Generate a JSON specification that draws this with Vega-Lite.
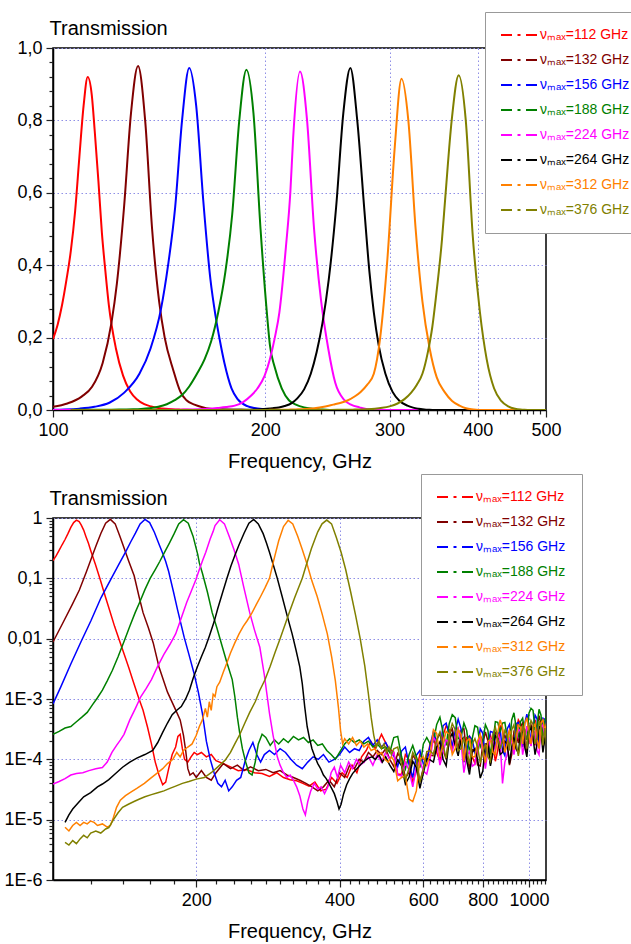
{
  "$schema": "https://vega.github.io/schema/vega-lite/v6.json",
  "padding": {"left": 3, "top": 10, "right": 0, "bottom": 0},
  "spacing": 0,
  "config": {
    "font": "Liberation Sans",
    "view": {"stroke": "#000", "strokeWidth": 1.5},
    "axis": {
      "domainColor": "#000", "domainWidth": 1.5, "tickColor": "#222", "tickWidth": 1.2,
      "labelColor": "#000", "labelFont": "Liberation Sans", "labelFontSize": 18,
      "titleFont": "Liberation Sans", "titleFontSize": 20, "titleFontWeight": "normal", "titleColor": "#000",
      "gridColor": "#8f8fe6", "gridDash": [1.5, 2.5], "gridWidth": 1,
      "labelOverlap": false, "labelBound": false, "labelFlush": false, "labelPadding": 4
    },
    "legend": {
      "orient": "none", "title": null,
      "labelFont": "Liberation Sans", "labelFontSize": 14,
      "labelColor": {"expr": "['#ff0000','#800000','#0000ff','#008000','#ff00ff','#000000','#ff8000','#808000'][indexof(['112','132','156','188','224','264','312','376'], datum.value)]"},
      "symbolType": "M-3.6,0H-1.4M-0.3,0H0.3M1.4,0H3.6",
      "symbolSize": 100, "symbolStrokeWidth": 2, "symbolOffset": 11, "labelOffset": 14,
      "rowPadding": 11, "padding": 16, "fillColor": "#ffffff", "strokeColor": "#999999", "cornerRadius": 0
    }
  },
  "datasets": {
    "transmission": [
      {"nu":"112","f":100,"T":0.196},{"nu":"112","f":101.5,"T":0.235},{"nu":"112","f":103,"T":0.29},{"nu":"112","f":104.5,"T":0.36},{"nu":"112","f":106,"T":0.44},{"nu":"112","f":107.5,"T":0.55},{"nu":"112","f":109,"T":0.7},{"nu":"112","f":110.5,"T":0.84},{"nu":"112","f":112,"T":0.92},{"nu":"112","f":113.5,"T":0.87},{"nu":"112","f":114.6,"T":0.77},{"nu":"112","f":116,"T":0.63},{"nu":"112","f":117.3,"T":0.49},{"nu":"112","f":118.7,"T":0.38},{"nu":"112","f":120,"T":0.29},{"nu":"112","f":122.8,"T":0.17},{"nu":"112","f":125.7,"T":0.095},{"nu":"112","f":128.6,"T":0.052},{"nu":"112","f":131.6,"T":0.029},{"nu":"112","f":134.7,"T":0.016},{"nu":"112","f":137.8,"T":0.0095},{"nu":"112","f":141,"T":0.0056},{"nu":"112","f":144.3,"T":0.0033},{"nu":"112","f":147.6,"T":0.0019},{"nu":"112","f":151,"T":0.0011},{"nu":"112","f":154.6,"T":6.5e-4},{"nu":"112","f":158,"T":3.4e-4},{"nu":"112","f":161,"T":1.8e-4},{"nu":"112","f":164,"T":9e-5},{"nu":"112","f":167,"T":5.5e-5},{"nu":"112","f":170,"T":3.8e-5},{"nu":"112","f":172.5,"T":4.2e-5},{"nu":"112","f":175,"T":7e-5},{"nu":"112","f":178,"T":1.2e-4},{"nu":"112","f":181,"T":1.6e-4},{"nu":"112","f":183,"T":2.4e-4},{"nu":"112","f":185,"T":2.6e-4},{"nu":"112","f":187,"T":1.5e-4},{"nu":"112","f":189,"T":1e-4},{"nu":"112","f":192,"T":9e-5},{"nu":"112","f":195,"T":1.1e-4},{"nu":"112","f":198,"T":1.3e-4},{"nu":"112","f":201,"T":1.2e-4},{"nu":"112","f":205,"T":1.3e-4},{"nu":"112","f":210,"T":1.1e-4},{"nu":"112","f":215,"T":1.2e-4},{"nu":"112","f":220,"T":9.5e-5},{"nu":"112","f":228,"T":8.5e-5},{"nu":"112","f":236,"T":7.5e-5},{"nu":"112","f":245,"T":6.5e-5},{"nu":"112","f":255,"T":6.8e-5},{"nu":"112","f":265,"T":6e-5},{"nu":"112","f":275,"T":5.8e-5},{"nu":"112","f":285,"T":5.2e-5},{"nu":"112","f":295,"T":6e-5},{"nu":"112","f":305,"T":5e-5},{"nu":"112","f":315,"T":4.6e-5},{"nu":"112","f":325,"T":4.4e-5},{"nu":"112","f":335,"T":4e-5},{"nu":"112","f":345,"T":3.6e-5},{"nu":"112","f":355,"T":4.2e-5},{"nu":"112","f":365,"T":3e-5},{"nu":"112","f":375,"T":3.2e-5},{"nu":"112","f":385,"T":5e-5},{"nu":"112","f":395,"T":4e-5},{"nu":"112","f":405,"T":6e-5},{"nu":"112","f":415,"T":5e-5},{"nu":"112","f":425,"T":8e-5},{"nu":"112","f":435,"T":6e-5},{"nu":"112","f":445,"T":1.1e-4},{"nu":"112","f":455,"T":1.4e-4},{"nu":"112","f":465,"T":2e-4},{"nu":"112","f":475,"T":1.5e-4},{"nu":"112","f":490,"T":2.6e-4},{"nu":"112","f":505,"T":1.6e-4},
      {"nu":"112","f":520,"T":1.3e-4},{"nu":"112","f":540,"T":5.7e-5},{"nu":"112","f":560,"T":9.8e-5},{"nu":"112","f":580,"T":6.8e-5},{"nu":"112","f":600,"T":1e-4},{"nu":"112","f":620,"T":1.8e-4},{"nu":"112","f":640,"T":1.3e-4},{"nu":"112","f":660,"T":2.5e-4},{"nu":"112","f":680,"T":3.1e-4},{"nu":"112","f":700,"T":2e-4},{"nu":"112","f":720,"T":2.2e-4},{"nu":"112","f":740,"T":2.3e-4},{"nu":"112","f":760,"T":1.1e-4},{"nu":"112","f":780,"T":1.35e-4},{"nu":"112","f":800,"T":2e-4},{"nu":"112","f":820,"T":2.2e-4},{"nu":"112","f":840,"T":1.7e-4},{"nu":"112","f":860,"T":1.4e-4},{"nu":"112","f":880,"T":3.1e-4},{"nu":"112","f":900,"T":2.2e-4},{"nu":"112","f":920,"T":2.1e-4},{"nu":"112","f":940,"T":3e-4},{"nu":"112","f":960,"T":3.9e-4},{"nu":"112","f":980,"T":2.4e-4},{"nu":"112","f":1000,"T":2.2e-4},{"nu":"112","f":1020,"T":3.4e-4},{"nu":"112","f":1040,"T":3e-4},{"nu":"112","f":1060,"T":4.3e-4},{"nu":"112","f":1080,"T":2.6e-4},{"nu":"112","f":1090,"T":3.3e-4},
      {"nu":"112","f":530,"T":5.6e-5},{"nu":"112","f":550,"T":1.2e-4},{"nu":"112","f":570,"T":4.1e-5},{"nu":"112","f":590,"T":1.2e-4},{"nu":"112","f":610,"T":9.8e-5},{"nu":"112","f":630,"T":2.5e-4},{"nu":"112","f":650,"T":9.5e-5},{"nu":"112","f":670,"T":3.6e-4},{"nu":"112","f":690,"T":1.5e-4},{"nu":"112","f":710,"T":3.2e-4},{"nu":"112","f":730,"T":9e-5},{"nu":"112","f":750,"T":2.4e-4},{"nu":"112","f":770,"T":8.6e-5},{"nu":"112","f":790,"T":2.5e-4},{"nu":"112","f":810,"T":1.05e-4},{"nu":"112","f":830,"T":2.5e-4},{"nu":"112","f":850,"T":9.3e-5},{"nu":"112","f":870,"T":3.6e-4},{"nu":"112","f":890,"T":1.3e-4},{"nu":"112","f":910,"T":3e-4},{"nu":"112","f":930,"T":1.5e-4},{"nu":"112","f":950,"T":4.5e-4},{"nu":"112","f":970,"T":1.6e-4},{"nu":"112","f":990,"T":3.5e-4},{"nu":"112","f":1010,"T":1.7e-4},{"nu":"112","f":1030,"T":4.5e-4},{"nu":"112","f":1050,"T":1.8e-4},{"nu":"112","f":1070,"T":4.5e-4},

      {"nu":"132","f":100,"T":0.0088},{"nu":"132","f":104.8,"T":0.018},{"nu":"132","f":109.8,"T":0.037},{"nu":"132","f":113.6,"T":0.064},{"nu":"132","f":117.6,"T":0.13},{"nu":"132","f":121,"T":0.24},{"nu":"132","f":123.2,"T":0.35},{"nu":"132","f":126.1,"T":0.56},{"nu":"132","f":129,"T":0.82},{"nu":"132","f":132,"T":0.95},{"nu":"132","f":135.1,"T":0.8},{"nu":"132","f":138.2,"T":0.5},{"nu":"132","f":141.4,"T":0.3},{"nu":"132","f":144,"T":0.2},{"nu":"132","f":148.1,"T":0.11},{"nu":"132","f":151.6,"T":0.05},{"nu":"132","f":154.6,"T":0.027},{"nu":"132","f":158.7,"T":0.015},{"nu":"132","f":162.4,"T":0.0085},{"nu":"132","f":167,"T":0.0034},{"nu":"132","f":174,"T":0.0013},{"nu":"132","f":181,"T":6.6e-4},{"nu":"132","f":185,"T":4.5e-4},{"nu":"132","f":188,"T":2.5e-4},{"nu":"132","f":190,"T":1.4e-4},{"nu":"132","f":192,"T":7e-5},{"nu":"132","f":194,"T":5.5e-5},{"nu":"132","f":197,"T":6e-5},{"nu":"132","f":200,"T":5e-5},{"nu":"132","f":205,"T":6.5e-5},{"nu":"132","f":210,"T":5e-5},{"nu":"132","f":215,"T":4.5e-5},{"nu":"132","f":220,"T":6e-5},{"nu":"132","f":228,"T":8.5e-5},{"nu":"132","f":236,"T":7e-5},{"nu":"132","f":244,"T":8e-5},{"nu":"132","f":252,"T":6.5e-5},{"nu":"132","f":260,"T":7.5e-5},{"nu":"132","f":270,"T":6.5e-5},{"nu":"132","f":280,"T":6.8e-5},{"nu":"132","f":290,"T":6e-5},{"nu":"132","f":300,"T":6.5e-5},{"nu":"132","f":310,"T":5.5e-5},{"nu":"132","f":320,"T":5e-5},{"nu":"132","f":330,"T":4.5e-5},{"nu":"132","f":340,"T":4e-5},{"nu":"132","f":350,"T":3.5e-5},{"nu":"132","f":360,"T":3e-5},{"nu":"132","f":370,"T":3.5e-5},{"nu":"132","f":380,"T":4.5e-5},{"nu":"132","f":390,"T":3.5e-5},{"nu":"132","f":400,"T":6e-5},{"nu":"132","f":410,"T":5e-5},{"nu":"132","f":420,"T":8e-5},{"nu":"132","f":430,"T":7e-5},{"nu":"132","f":440,"T":1e-4},{"nu":"132","f":450,"T":9e-5},{"nu":"132","f":460,"T":1.3e-4},{"nu":"132","f":470,"T":1.1e-4},{"nu":"132","f":480,"T":1.4e-4},{"nu":"132","f":490,"T":1.2e-4},{"nu":"132","f":500,"T":1.5e-4},{"nu":"132","f":510,"T":1e-4},
      {"nu":"132","f":520,"T":7.6e-5},{"nu":"132","f":540,"T":1.03e-4},{"nu":"132","f":560,"T":6.1e-5},{"nu":"132","f":580,"T":9.5e-5},{"nu":"132","f":600,"T":7.2e-5},{"nu":"132","f":620,"T":1.17e-4},{"nu":"132","f":640,"T":2.1e-4},{"nu":"132","f":660,"T":1.45e-4},{"nu":"132","f":680,"T":2.6e-4},{"nu":"132","f":700,"T":2e-4},{"nu":"132","f":720,"T":3e-4},{"nu":"132","f":740,"T":1.3e-4},{"nu":"132","f":760,"T":1.44e-4},{"nu":"132","f":780,"T":8.1e-5},{"nu":"132","f":800,"T":1.8e-4},{"nu":"132","f":820,"T":2e-4},{"nu":"132","f":840,"T":1.3e-4},{"nu":"132","f":860,"T":2.7e-4},{"nu":"132","f":880,"T":1.9e-4},{"nu":"132","f":900,"T":2e-4},{"nu":"132","f":920,"T":1.2e-4},{"nu":"132","f":940,"T":2.7e-4},{"nu":"132","f":960,"T":3.5e-4},{"nu":"132","f":980,"T":2.2e-4},{"nu":"132","f":1000,"T":3.2e-4},{"nu":"132","f":1020,"T":2.5e-4},{"nu":"132","f":1040,"T":3.2e-4},{"nu":"132","f":1060,"T":3.9e-4},{"nu":"132","f":1080,"T":2.3e-4},{"nu":"132","f":1090,"T":3e-4},
      {"nu":"132","f":530,"T":1.25e-4},{"nu":"132","f":550,"T":4.9e-5},{"nu":"132","f":570,"T":1.17e-4},{"nu":"132","f":590,"T":4.2e-5},{"nu":"132","f":610,"T":1.23e-4},{"nu":"132","f":630,"T":1.15e-4},{"nu":"132","f":650,"T":2.7e-4},{"nu":"132","f":670,"T":1e-4},{"nu":"132","f":690,"T":3.2e-4},{"nu":"132","f":710,"T":1.5e-4},{"nu":"132","f":730,"T":3.2e-4},{"nu":"132","f":750,"T":6.9e-5},{"nu":"132","f":770,"T":1.46e-4},{"nu":"132","f":790,"T":7.8e-5},{"nu":"132","f":810,"T":2.85e-4},{"nu":"132","f":830,"T":8.3e-5},{"nu":"132","f":850,"T":2.8e-4},{"nu":"132","f":870,"T":1.6e-4},{"nu":"132","f":890,"T":2.5e-4},{"nu":"132","f":910,"T":8e-5},{"nu":"132","f":930,"T":2.9e-4},{"nu":"132","f":950,"T":1.86e-4},{"nu":"132","f":970,"T":4e-4},{"nu":"132","f":990,"T":1.35e-4},{"nu":"132","f":1010,"T":3.7e-4},{"nu":"132","f":1030,"T":1.7e-4},{"nu":"132","f":1050,"T":5.3e-4},{"nu":"132","f":1070,"T":1.55e-4},

      {"nu":"156","f":100,"T":8.3e-4},{"nu":"156","f":103.9,"T":0.0016},{"nu":"156","f":109,"T":0.0038},{"nu":"156","f":114.5,"T":0.0089},{"nu":"156","f":120.2,"T":0.02},{"nu":"156","f":126.2,"T":0.048},{"nu":"156","f":132.6,"T":0.1},{"nu":"156","f":137.5,"T":0.17},{"nu":"156","f":142.3,"T":0.28},{"nu":"156","f":145.6,"T":0.4},{"nu":"156","f":149,"T":0.56},{"nu":"156","f":152.4,"T":0.8},{"nu":"156","f":156,"T":0.945},{"nu":"156","f":159.6,"T":0.84},{"nu":"156","f":163.3,"T":0.58},{"nu":"156","f":167.2,"T":0.36},{"nu":"156","f":170,"T":0.26},{"nu":"156","f":172.5,"T":0.19},{"nu":"156","f":175,"T":0.13},{"nu":"156","f":179.1,"T":0.06},{"nu":"156","f":182.7,"T":0.03},{"nu":"156","f":188.6,"T":0.0106},{"nu":"156","f":193,"T":0.0055},{"nu":"156","f":198,"T":0.0026},{"nu":"156","f":202,"T":0.0013},{"nu":"156","f":206,"T":5.8e-4},{"nu":"156","f":210,"T":2e-4},{"nu":"156","f":214,"T":1e-4},{"nu":"156","f":218,"T":6e-5},{"nu":"156","f":222,"T":4e-5},{"nu":"156","f":226,"T":3.5e-5},{"nu":"156","f":230,"T":4.5e-5},{"nu":"156","f":234,"T":3e-5},{"nu":"156","f":238,"T":3.5e-5},{"nu":"156","f":243,"T":4.5e-5},{"nu":"156","f":248,"T":5e-5},{"nu":"156","f":253,"T":9e-5},{"nu":"156","f":258,"T":1.4e-4},{"nu":"156","f":263,"T":1.9e-4},{"nu":"156","f":268,"T":1.2e-4},{"nu":"156","f":273,"T":9e-5},{"nu":"156","f":278,"T":1.2e-4},{"nu":"156","f":285,"T":1.4e-4},{"nu":"156","f":292,"T":1.2e-4},{"nu":"156","f":300,"T":1.5e-4},{"nu":"156","f":308,"T":1.3e-4},{"nu":"156","f":316,"T":1e-4},{"nu":"156","f":325,"T":8e-5},{"nu":"156","f":334,"T":7e-5},{"nu":"156","f":343,"T":9e-5},{"nu":"156","f":352,"T":1.1e-4},{"nu":"156","f":361,"T":1e-4},{"nu":"156","f":370,"T":1.2e-4},{"nu":"156","f":380,"T":9e-5},{"nu":"156","f":390,"T":1e-4},{"nu":"156","f":400,"T":1.2e-4},{"nu":"156","f":410,"T":1.6e-4},{"nu":"156","f":420,"T":1.3e-4},{"nu":"156","f":430,"T":1.5e-4},{"nu":"156","f":440,"T":1.4e-4},{"nu":"156","f":450,"T":2e-4},{"nu":"156","f":460,"T":2.3e-4},{"nu":"156","f":470,"T":1.7e-4},{"nu":"156","f":480,"T":2.1e-4},{"nu":"156","f":490,"T":1.6e-4},{"nu":"156","f":500,"T":1.9e-4},{"nu":"156","f":510,"T":1.4e-4},
      {"nu":"156","f":520,"T":1.15e-4},{"nu":"156","f":540,"T":1.37e-4},{"nu":"156","f":560,"T":8.1e-5},{"nu":"156","f":580,"T":1.17e-4},{"nu":"156","f":600,"T":8.4e-5},{"nu":"156","f":620,"T":1.7e-4},{"nu":"156","f":640,"T":1.9e-4},{"nu":"156","f":660,"T":3.6e-4},{"nu":"156","f":680,"T":2.5e-4},{"nu":"156","f":700,"T":3e-4},{"nu":"156","f":720,"T":3.2e-4},{"nu":"156","f":740,"T":1.3e-4},{"nu":"156","f":760,"T":2.1e-4},{"nu":"156","f":780,"T":1.6e-4},{"nu":"156","f":800,"T":2.7e-4},{"nu":"156","f":820,"T":1.7e-4},{"nu":"156","f":840,"T":2.8e-4},{"nu":"156","f":860,"T":2.5e-4},{"nu":"156","f":880,"T":1.4e-4},{"nu":"156","f":900,"T":3.2e-4},{"nu":"156","f":920,"T":2.2e-4},{"nu":"156","f":940,"T":3.9e-4},{"nu":"156","f":960,"T":2.4e-4},{"nu":"156","f":980,"T":4e-4},{"nu":"156","f":1000,"T":3.5e-4},{"nu":"156","f":1020,"T":3e-4},{"nu":"156","f":1040,"T":4.7e-4},{"nu":"156","f":1060,"T":2.8e-4},{"nu":"156","f":1080,"T":4.6e-4},{"nu":"156","f":1090,"T":3.6e-4},
      {"nu":"156","f":530,"T":7.6e-5},{"nu":"156","f":550,"T":1.6e-4},{"nu":"156","f":570,"T":5e-5},{"nu":"156","f":590,"T":1.4e-4},{"nu":"156","f":610,"T":8.9e-5},{"nu":"156","f":630,"T":2.9e-4},{"nu":"156","f":650,"T":1.4e-4},{"nu":"156","f":670,"T":4e-4},{"nu":"156","f":690,"T":1.65e-4},{"nu":"156","f":710,"T":4.6e-4},{"nu":"156","f":730,"T":9e-5},{"nu":"156","f":750,"T":2.4e-4},{"nu":"156","f":770,"T":1.3e-4},{"nu":"156","f":790,"T":3.2e-4},{"nu":"156","f":810,"T":1.1e-4},{"nu":"156","f":830,"T":2.9e-4},{"nu":"156","f":850,"T":1.6e-4},{"nu":"156","f":870,"T":3.1e-4},{"nu":"156","f":890,"T":1.15e-4},{"nu":"156","f":910,"T":3.8e-4},{"nu":"156","f":930,"T":1.8e-4},{"nu":"156","f":950,"T":4.1e-4},{"nu":"156","f":970,"T":1.6e-4},{"nu":"156","f":990,"T":5.6e-4},{"nu":"156","f":1010,"T":1.95e-4},{"nu":"156","f":1030,"T":5.4e-4},{"nu":"156","f":1050,"T":1.9e-4},{"nu":"156","f":1070,"T":4.8e-4},

      {"nu":"188","f":100,"T":2.6e-4},{"nu":"188","f":103,"T":2.9e-4},{"nu":"188","f":106,"T":3.3e-4},{"nu":"188","f":109,"T":3.5e-4},{"nu":"188","f":112,"T":4.2e-4},{"nu":"188","f":115,"T":5e-4},{"nu":"188","f":118,"T":6e-4},{"nu":"188","f":121,"T":8e-4},{"nu":"188","f":124,"T":0.00105},{"nu":"188","f":127,"T":0.0014},{"nu":"188","f":130,"T":0.002},{"nu":"188","f":133.3,"T":0.003},{"nu":"188","f":137,"T":0.005},{"nu":"188","f":141,"T":0.009},{"nu":"188","f":145,"T":0.016},{"nu":"188","f":148.8,"T":0.027},{"nu":"188","f":152.5,"T":0.042},{"nu":"188","f":156,"T":0.065},{"nu":"188","f":160,"T":0.1},{"nu":"188","f":164,"T":0.14},{"nu":"188","f":167.6,"T":0.19},{"nu":"188","f":171.5,"T":0.27},{"nu":"188","f":175.5,"T":0.38},{"nu":"188","f":179.5,"T":0.54},{"nu":"188","f":183.7,"T":0.8},{"nu":"188","f":188,"T":0.94},{"nu":"188","f":192.4,"T":0.82},{"nu":"188","f":196.9,"T":0.5},{"nu":"188","f":201.4,"T":0.25},{"nu":"188","f":203,"T":0.18},{"nu":"188","f":206.1,"T":0.12},{"nu":"188","f":211,"T":0.06},{"nu":"188","f":216,"T":0.027},{"nu":"188","f":221,"T":0.015},{"nu":"188","f":227,"T":0.0072},{"nu":"188","f":232,"T":0.004},{"nu":"188","f":238,"T":0.0021},{"nu":"188","f":241,"T":0.0011},{"nu":"188","f":244,"T":5e-4},{"nu":"188","f":247,"T":2.6e-4},{"nu":"188","f":250,"T":1.5e-4},{"nu":"188","f":254,"T":9e-5},{"nu":"188","f":258,"T":6e-5},{"nu":"188","f":262,"T":5.5e-5},{"nu":"188","f":266,"T":9e-5},{"nu":"188","f":270,"T":1.8e-4},{"nu":"188","f":275,"T":2.6e-4},{"nu":"188","f":280,"T":2.3e-4},{"nu":"188","f":286,"T":1.7e-4},{"nu":"188","f":292,"T":2.1e-4},{"nu":"188","f":298,"T":1.8e-4},{"nu":"188","f":305,"T":2.2e-4},{"nu":"188","f":312,"T":1.9e-4},{"nu":"188","f":320,"T":2.4e-4},{"nu":"188","f":328,"T":2.1e-4},{"nu":"188","f":336,"T":2.3e-4},{"nu":"188","f":344,"T":1.9e-4},{"nu":"188","f":352,"T":2.1e-4},{"nu":"188","f":360,"T":1.7e-4},{"nu":"188","f":368,"T":1.8e-4},{"nu":"188","f":376,"T":1.4e-4},{"nu":"188","f":384,"T":1.2e-4},{"nu":"188","f":392,"T":1e-4},{"nu":"188","f":400,"T":1.3e-4},{"nu":"188","f":410,"T":1.8e-4},{"nu":"188","f":420,"T":2.2e-4},{"nu":"188","f":430,"T":1.9e-4},{"nu":"188","f":440,"T":2.1e-4},{"nu":"188","f":450,"T":1.8e-4},{"nu":"188","f":460,"T":2e-4},{"nu":"188","f":470,"T":1.6e-4},{"nu":"188","f":480,"T":1.8e-4},{"nu":"188","f":490,"T":1.5e-4},{"nu":"188","f":500,"T":1.6e-4},{"nu":"188","f":510,"T":1.3e-4},
      {"nu":"188","f":520,"T":2.3e-4},{"nu":"188","f":540,"T":1.1e-4},{"nu":"188","f":560,"T":1.2e-4},{"nu":"188","f":580,"T":1.1e-4},{"nu":"188","f":600,"T":1.8e-4},{"nu":"188","f":620,"T":1.8e-4},{"nu":"188","f":640,"T":3.8e-4},{"nu":"188","f":660,"T":2.8e-4},{"nu":"188","f":680,"T":3.9e-4},{"nu":"188","f":700,"T":4.9e-4},{"nu":"188","f":720,"T":2.3e-4},{"nu":"188","f":740,"T":3e-4},{"nu":"188","f":760,"T":2.2e-4},{"nu":"188","f":780,"T":3.4e-4},{"nu":"188","f":800,"T":2e-4},{"nu":"188","f":820,"T":3e-4},{"nu":"188","f":840,"T":1.9e-4},{"nu":"188","f":860,"T":4.1e-4},{"nu":"188","f":880,"T":4e-4},{"nu":"188","f":900,"T":2.3e-4},{"nu":"188","f":920,"T":4.5e-4},{"nu":"188","f":940,"T":3.4e-4},{"nu":"188","f":960,"T":4.2e-4},{"nu":"188","f":980,"T":2.7e-4},{"nu":"188","f":1000,"T":5.8e-4},{"nu":"188","f":1020,"T":6.5e-4},{"nu":"188","f":1040,"T":3.6e-4},{"nu":"188","f":1060,"T":5.4e-4},{"nu":"188","f":1080,"T":4.3e-4},{"nu":"188","f":1090,"T":5.4e-4},
      {"nu":"188","f":530,"T":2.4e-4},{"nu":"188","f":550,"T":6.9e-5},{"nu":"188","f":570,"T":1.7e-4},{"nu":"188","f":590,"T":7.3e-5},{"nu":"188","f":610,"T":2.3e-4},{"nu":"188","f":630,"T":1.96e-4},{"nu":"188","f":650,"T":5e-4},{"nu":"188","f":670,"T":1.7e-4},{"nu":"188","f":690,"T":5.5e-4},{"nu":"188","f":710,"T":2.2e-4},{"nu":"188","f":730,"T":4e-4},{"nu":"188","f":750,"T":1.3e-4},{"nu":"188","f":770,"T":3.6e-4},{"nu":"188","f":790,"T":1.6e-4},{"nu":"188","f":810,"T":3.75e-4},{"nu":"188","f":830,"T":1.2e-4},{"nu":"188","f":850,"T":4.2e-4},{"nu":"188","f":870,"T":2.8e-4},{"nu":"188","f":890,"T":4.1e-4},{"nu":"188","f":910,"T":1.7e-4},{"nu":"188","f":930,"T":5.9e-4},{"nu":"188","f":950,"T":2.3e-4},{"nu":"188","f":970,"T":4.8e-4},{"nu":"188","f":990,"T":2.1e-4},{"nu":"188","f":1010,"T":7e-4},{"nu":"188","f":1030,"T":3e-4},{"nu":"188","f":1050,"T":6.75e-4},{"nu":"188","f":1070,"T":2.4e-4},

      {"nu":"224","f":100,"T":3.9e-5},{"nu":"224","f":103,"T":4.3e-5},{"nu":"224","f":106,"T":4.8e-5},{"nu":"224","f":109,"T":5.5e-5},{"nu":"224","f":112,"T":5.8e-5},{"nu":"224","f":115.5,"T":6e-5},{"nu":"224","f":119,"T":6.5e-5},{"nu":"224","f":123,"T":7e-5},{"nu":"224","f":127,"T":7.3e-5},{"nu":"224","f":130,"T":9e-5},{"nu":"224","f":133,"T":1.3e-4},{"nu":"224","f":136,"T":1.7e-4},{"nu":"224","f":138.6,"T":2.1e-4},{"nu":"224","f":141,"T":2.6e-4},{"nu":"224","f":145,"T":4.5e-4},{"nu":"224","f":149,"T":7e-4},{"nu":"224","f":153,"T":0.0011},{"nu":"224","f":157,"T":0.0015},{"nu":"224","f":161,"T":0.0021},{"nu":"224","f":166,"T":0.0035},{"nu":"224","f":171,"T":0.0055},{"nu":"224","f":176,"T":0.008},{"nu":"224","f":181,"T":0.012},{"nu":"224","f":186,"T":0.022},{"nu":"224","f":191,"T":0.04},{"nu":"224","f":195,"T":0.06},{"nu":"224","f":199.5,"T":0.094},{"nu":"224","f":203,"T":0.14},{"nu":"224","f":206.3,"T":0.2},{"nu":"224","f":209.4,"T":0.27},{"nu":"224","f":213.9,"T":0.45},{"nu":"224","f":217,"T":0.6},{"nu":"224","f":219,"T":0.75},{"nu":"224","f":224,"T":0.935},{"nu":"224","f":229.2,"T":0.8},{"nu":"224","f":234.5,"T":0.5},{"nu":"224","f":240,"T":0.3},{"nu":"224","f":245.6,"T":0.17},{"nu":"224","f":251.3,"T":0.075},{"nu":"224","f":259,"T":0.027},{"nu":"224","f":265,"T":0.014},{"nu":"224","f":272,"T":0.0072},{"nu":"224","f":278,"T":0.0025},{"nu":"224","f":285,"T":5.8e-4},{"nu":"224","f":290,"T":2.5e-4},{"nu":"224","f":296,"T":1.1e-4},{"nu":"224","f":300,"T":8e-5},{"nu":"224","f":305,"T":6e-5},{"nu":"224","f":310,"T":5e-5},{"nu":"224","f":315,"T":5.5e-5},{"nu":"224","f":320,"T":4.5e-5},{"nu":"224","f":325,"T":3.5e-5},{"nu":"224","f":330,"T":2.5e-5},{"nu":"224","f":335,"T":1.5e-5},{"nu":"224","f":339,"T":1.2e-5},{"nu":"224","f":343,"T":2e-5},{"nu":"224","f":348,"T":3e-5},{"nu":"224","f":354,"T":4e-5},{"nu":"224","f":360,"T":3.2e-5},{"nu":"224","f":366,"T":3.5e-5},{"nu":"224","f":372,"T":2.7e-5},{"nu":"224","f":378,"T":3.5e-5},{"nu":"224","f":384,"T":6e-5},{"nu":"224","f":390,"T":7.4e-5},{"nu":"224","f":396,"T":5e-5},{"nu":"224","f":402,"T":8e-5},{"nu":"224","f":410,"T":6e-5},{"nu":"224","f":418,"T":9e-5},{"nu":"224","f":426,"T":7e-5},{"nu":"224","f":434,"T":1e-4},{"nu":"224","f":442,"T":8e-5},{"nu":"224","f":450,"T":9e-5},{"nu":"224","f":460,"T":1.1e-4},{"nu":"224","f":470,"T":8e-5},{"nu":"224","f":480,"T":1.2e-4},{"nu":"224","f":490,"T":9e-5},{"nu":"224","f":500,"T":1.3e-4},{"nu":"224","f":510,"T":1e-4},
      {"nu":"224","f":520,"T":1.3e-4},{"nu":"224","f":540,"T":5.3e-5},{"nu":"224","f":560,"T":6.6e-5},{"nu":"224","f":580,"T":7.2e-5},{"nu":"224","f":600,"T":6.4e-5},{"nu":"224","f":620,"T":1e-4},{"nu":"224","f":640,"T":1.9e-4},{"nu":"224","f":660,"T":1.3e-4},{"nu":"224","f":680,"T":1.9e-4},{"nu":"224","f":700,"T":2.4e-4},{"nu":"224","f":720,"T":1.9e-4},{"nu":"224","f":740,"T":1.15e-4},{"nu":"224","f":760,"T":7.7e-5},{"nu":"224","f":780,"T":1.6e-4},{"nu":"224","f":800,"T":1.4e-4},{"nu":"224","f":820,"T":1.4e-4},{"nu":"224","f":840,"T":2e-4},{"nu":"224","f":860,"T":2.6e-4},{"nu":"224","f":880,"T":4e-5},{"nu":"224","f":900,"T":1.2e-4},{"nu":"224","f":920,"T":2e-4},{"nu":"224","f":940,"T":2e-4},{"nu":"224","f":960,"T":2.9e-4},{"nu":"224","f":980,"T":1.9e-4},{"nu":"224","f":1000,"T":2.8e-4},{"nu":"224","f":1020,"T":2.7e-4},{"nu":"224","f":1040,"T":1.4e-4},{"nu":"224","f":1060,"T":3.4e-4},{"nu":"224","f":1080,"T":2.3e-4},{"nu":"224","f":1090,"T":2.4e-4},
      {"nu":"224","f":530,"T":5.5e-5},{"nu":"224","f":550,"T":9e-5},{"nu":"224","f":570,"T":3.5e-5},{"nu":"224","f":590,"T":9.5e-5},{"nu":"224","f":610,"T":5.7e-5},{"nu":"224","f":630,"T":2.3e-4},{"nu":"224","f":650,"T":8e-5},{"nu":"224","f":670,"T":2.1e-4},{"nu":"224","f":690,"T":1.3e-4},{"nu":"224","f":710,"T":3.2e-4},{"nu":"224","f":730,"T":6e-5},{"nu":"224","f":750,"T":1.35e-4},{"nu":"224","f":770,"T":8.3e-5},{"nu":"224","f":790,"T":2.25e-4},{"nu":"224","f":810,"T":7e-5},{"nu":"224","f":830,"T":2.2e-4},{"nu":"224","f":850,"T":1.4e-4},{"nu":"224","f":870,"T":2e-4},{"nu":"224","f":890,"T":9e-5},{"nu":"224","f":910,"T":2.2e-4},{"nu":"224","f":930,"T":1.2e-4},{"nu":"224","f":950,"T":3.2e-4},{"nu":"224","f":970,"T":1.2e-4},{"nu":"224","f":990,"T":3.5e-4},{"nu":"224","f":1010,"T":1.65e-4},{"nu":"224","f":1030,"T":2.9e-4},{"nu":"224","f":1050,"T":1.2e-4},{"nu":"224","f":1070,"T":3.7e-4},

      {"nu":"264","f":106,"T":9e-6},{"nu":"264","f":108,"T":1.2e-5},{"nu":"264","f":110,"T":1.5e-5},{"nu":"264","f":113,"T":1.9e-5},{"nu":"264","f":116,"T":2.4e-5},{"nu":"264","f":120,"T":2.8e-5},{"nu":"264","f":124,"T":3.5e-5},{"nu":"264","f":127,"T":3.9e-5},{"nu":"264","f":131,"T":4.6e-5},{"nu":"264","f":135,"T":5.7e-5},{"nu":"264","f":140,"T":7.4e-5},{"nu":"264","f":145,"T":9e-5},{"nu":"264","f":150,"T":1.05e-4},{"nu":"264","f":156,"T":1.2e-4},{"nu":"264","f":162,"T":1.4e-4},{"nu":"264","f":166,"T":1.9e-4},{"nu":"264","f":170,"T":2.8e-4},{"nu":"264","f":174,"T":4e-4},{"nu":"264","f":178,"T":5.5e-4},{"nu":"264","f":182,"T":6.5e-4},{"nu":"264","f":186,"T":7.5e-4},{"nu":"264","f":190,"T":0.001},{"nu":"264","f":193.5,"T":0.0014},{"nu":"264","f":197,"T":0.0022},{"nu":"264","f":201,"T":0.0034},{"nu":"264","f":205,"T":0.005},{"nu":"264","f":209,"T":0.0072},{"nu":"264","f":213,"T":0.011},{"nu":"264","f":218,"T":0.019},{"nu":"264","f":222,"T":0.032},{"nu":"264","f":227,"T":0.057},{"nu":"264","f":232,"T":0.1},{"nu":"264","f":236.5,"T":0.16},{"nu":"264","f":241,"T":0.24},{"nu":"264","f":246,"T":0.36},{"nu":"264","f":252,"T":0.56},{"nu":"264","f":258,"T":0.82},{"nu":"264","f":264,"T":0.945},{"nu":"264","f":270,"T":0.8},{"nu":"264","f":276.4,"T":0.55},{"nu":"264","f":281,"T":0.38},{"nu":"264","f":285,"T":0.27},{"nu":"264","f":289.5,"T":0.18},{"nu":"264","f":296,"T":0.1},{"nu":"264","f":303,"T":0.05},{"nu":"264","f":310,"T":0.025},{"nu":"264","f":318,"T":0.012},{"nu":"264","f":324,"T":0.0065},{"nu":"264","f":330,"T":0.0034},{"nu":"264","f":334,"T":0.0018},{"nu":"264","f":338,"T":7.4e-4},{"nu":"264","f":342,"T":3.5e-4},{"nu":"264","f":346,"T":2.2e-4},{"nu":"264","f":350,"T":1.5e-4},{"nu":"264","f":355,"T":1.1e-4},{"nu":"264","f":360,"T":8.5e-5},{"nu":"264","f":365,"T":7e-5},{"nu":"264","f":370,"T":5.5e-5},{"nu":"264","f":375,"T":4.8e-5},{"nu":"264","f":380,"T":4e-5},{"nu":"264","f":385,"T":3.3e-5},{"nu":"264","f":390,"T":2.7e-5},{"nu":"264","f":395,"T":2e-5},{"nu":"264","f":399,"T":1.5e-5},{"nu":"264","f":403,"T":1.8e-5},{"nu":"264","f":408,"T":2.7e-5},{"nu":"264","f":414,"T":3.8e-5},{"nu":"264","f":420,"T":4.8e-5},{"nu":"264","f":426,"T":5.8e-5},{"nu":"264","f":432,"T":6.6e-5},{"nu":"264","f":438,"T":7.4e-5},{"nu":"264","f":445,"T":8.5e-5},{"nu":"264","f":452,"T":9.5e-5},{"nu":"264","f":460,"T":1.05e-4},{"nu":"264","f":468,"T":1.1e-4},{"nu":"264","f":476,"T":1e-4},{"nu":"264","f":484,"T":1.2e-4},{"nu":"264","f":492,"T":9e-5},{"nu":"264","f":500,"T":1.1e-4},{"nu":"264","f":510,"T":8e-5},
      {"nu":"264","f":520,"T":6.3e-5},{"nu":"264","f":540,"T":7.8e-5},{"nu":"264","f":560,"T":5.1e-5},{"nu":"264","f":580,"T":7.3e-5},{"nu":"264","f":600,"T":6e-5},{"nu":"264","f":620,"T":9.8e-5},{"nu":"264","f":640,"T":1.6e-4},{"nu":"264","f":660,"T":1e-4},{"nu":"264","f":680,"T":2.1e-4},{"nu":"264","f":700,"T":1.7e-4},{"nu":"264","f":720,"T":2.1e-4},{"nu":"264","f":740,"T":9.5e-5},{"nu":"264","f":760,"T":1.3e-4},{"nu":"264","f":780,"T":1e-4},{"nu":"264","f":800,"T":6.4e-5},{"nu":"264","f":820,"T":1.8e-4},{"nu":"264","f":840,"T":1.3e-4},{"nu":"264","f":860,"T":2.2e-4},{"nu":"264","f":880,"T":1.3e-4},{"nu":"264","f":900,"T":1.8e-4},{"nu":"264","f":920,"T":1.6e-4},{"nu":"264","f":940,"T":1.5e-4},{"nu":"264","f":960,"T":2.7e-4},{"nu":"264","f":980,"T":1.6e-4},{"nu":"264","f":1000,"T":2.9e-4},{"nu":"264","f":1020,"T":2.3e-4},{"nu":"264","f":1040,"T":1.8e-4},{"nu":"264","f":1060,"T":3e-4},{"nu":"264","f":1080,"T":2.2e-4},{"nu":"264","f":1090,"T":2.9e-4},
      {"nu":"264","f":530,"T":9.8e-5},{"nu":"264","f":550,"T":3.9e-5},{"nu":"264","f":570,"T":9.3e-5},{"nu":"264","f":590,"T":3.3e-5},{"nu":"264","f":610,"T":1.03e-4},{"nu":"264","f":630,"T":9e-5},{"nu":"264","f":650,"T":1.95e-4},{"nu":"264","f":670,"T":7.8e-5},{"nu":"264","f":690,"T":2.7e-4},{"nu":"264","f":710,"T":1.14e-4},{"nu":"264","f":730,"T":2.3e-4},{"nu":"264","f":750,"T":5.6e-5},{"nu":"264","f":770,"T":1.5e-4},{"nu":"264","f":790,"T":4.9e-5},{"nu":"264","f":810,"T":1.8e-4},{"nu":"264","f":830,"T":7.8e-5},{"nu":"264","f":850,"T":2.45e-4},{"nu":"264","f":870,"T":1.2e-4},{"nu":"264","f":890,"T":2e-4},{"nu":"264","f":910,"T":8.5e-5},{"nu":"264","f":930,"T":2.3e-4},{"nu":"264","f":950,"T":1.26e-4},{"nu":"264","f":970,"T":3e-4},{"nu":"264","f":990,"T":1.1e-4},{"nu":"264","f":1010,"T":3.4e-4},{"nu":"264","f":1030,"T":1.2e-4},{"nu":"264","f":1050,"T":3.6e-4},{"nu":"264","f":1070,"T":1.3e-4},

      {"nu":"312","f":106,"T":7.5e-6},{"nu":"312","f":108,"T":6.5e-6},{"nu":"312","f":110,"T":8e-6},{"nu":"312","f":112,"T":9e-6},{"nu":"312","f":114,"T":8e-6},{"nu":"312","f":116,"T":9e-6},{"nu":"312","f":118,"T":8.5e-6},{"nu":"312","f":120,"T":9.5e-6},{"nu":"312","f":122,"T":9e-6},{"nu":"312","f":124,"T":8e-6},{"nu":"312","f":127,"T":8.5e-6},{"nu":"312","f":130,"T":7.5e-6},{"nu":"312","f":132,"T":8e-6},{"nu":"312","f":134,"T":1.1e-5},{"nu":"312","f":136,"T":1.6e-5},{"nu":"312","f":138.5,"T":2.1e-5},{"nu":"312","f":142,"T":2.5e-5},{"nu":"312","f":146,"T":2.9e-5},{"nu":"312","f":150,"T":3.3e-5},{"nu":"312","f":155.6,"T":4e-5},{"nu":"312","f":160,"T":4.8e-5},{"nu":"312","f":165,"T":5.8e-5},{"nu":"312","f":170,"T":7e-5},{"nu":"312","f":174,"T":8.5e-5},{"nu":"312","f":178.6,"T":1e-4},{"nu":"312","f":182,"T":1.3e-4},{"nu":"312","f":185,"T":1.1e-4},{"nu":"312","f":188,"T":1.4e-4},{"nu":"312","f":192,"T":1.6e-4},{"nu":"312","f":196,"T":1.8e-4},{"nu":"312","f":200,"T":2.5e-4},{"nu":"312","f":203,"T":3.5e-4},{"nu":"312","f":206,"T":4.5e-4},{"nu":"312","f":209,"T":7e-4},{"nu":"312","f":211,"T":5e-4},{"nu":"312","f":213,"T":9e-4},{"nu":"312","f":215,"T":6.5e-4},{"nu":"312","f":217,"T":0.0012},{"nu":"312","f":219,"T":0.0011},{"nu":"312","f":221,"T":0.0016},{"nu":"312","f":224,"T":0.0019},{"nu":"312","f":228,"T":0.0028},{"nu":"312","f":232,"T":0.004},{"nu":"312","f":236,"T":0.0058},{"nu":"312","f":241,"T":0.0085},{"nu":"312","f":246,"T":0.012},{"nu":"312","f":251,"T":0.016},{"nu":"312","f":256,"T":0.02},{"nu":"312","f":262,"T":0.027},{"nu":"312","f":268,"T":0.038},{"nu":"312","f":273,"T":0.05},{"nu":"312","f":279,"T":0.07},{"nu":"312","f":285,"T":0.1},{"nu":"312","f":291,"T":0.2},{"nu":"312","f":298,"T":0.42},{"nu":"312","f":305,"T":0.72},{"nu":"312","f":312,"T":0.915},{"nu":"312","f":319,"T":0.8},{"nu":"312","f":326.7,"T":0.5},{"nu":"312","f":334,"T":0.3},{"nu":"312","f":342,"T":0.17},{"nu":"312","f":350,"T":0.09},{"nu":"312","f":359,"T":0.05},{"nu":"312","f":368,"T":0.025},{"nu":"312","f":377,"T":0.012},{"nu":"312","f":385,"T":0.005},{"nu":"312","f":392,"T":0.002},{"nu":"312","f":398,"T":7e-4},{"nu":"312","f":402,"T":3e-4},{"nu":"312","f":406,"T":1.8e-4},{"nu":"312","f":410,"T":2.2e-4},{"nu":"312","f":418,"T":1.8e-4},{"nu":"312","f":426,"T":2.3e-4},{"nu":"312","f":434,"T":1.7e-4},{"nu":"312","f":442,"T":2e-4},{"nu":"312","f":450,"T":1.6e-4},{"nu":"312","f":458,"T":1.8e-4},{"nu":"312","f":466,"T":1.4e-4},{"nu":"312","f":474,"T":1.5e-4},{"nu":"312","f":482,"T":1.2e-4},{"nu":"312","f":490,"T":1.3e-4},{"nu":"312","f":498,"T":1e-4},{"nu":"312","f":506,"T":9e-5},{"nu":"312","f":514,"T":1.1e-4},
      {"nu":"312","f":520,"T":9.6e-5},{"nu":"312","f":540,"T":5e-5},{"nu":"312","f":560,"T":2.2e-5},{"nu":"312","f":580,"T":3e-5},{"nu":"312","f":600,"T":1.1e-4},{"nu":"312","f":620,"T":1.2e-4},{"nu":"312","f":640,"T":2.7e-4},{"nu":"312","f":660,"T":1.8e-4},{"nu":"312","f":680,"T":2.6e-4},{"nu":"312","f":700,"T":1.5e-4},{"nu":"312","f":720,"T":2.6e-4},{"nu":"312","f":740,"T":2e-4},{"nu":"312","f":760,"T":1.1e-4},{"nu":"312","f":780,"T":2e-4},{"nu":"312","f":800,"T":1.5e-4},{"nu":"312","f":820,"T":2e-4},{"nu":"312","f":840,"T":1.3e-4},{"nu":"312","f":860,"T":2.8e-4},{"nu":"312","f":880,"T":3.4e-4},{"nu":"312","f":900,"T":1.8e-4},{"nu":"312","f":920,"T":2.5e-4},{"nu":"312","f":940,"T":2.3e-4},{"nu":"312","f":960,"T":3.4e-4},{"nu":"312","f":980,"T":3.9e-4},{"nu":"312","f":1000,"T":2.6e-4},{"nu":"312","f":1020,"T":3.4e-4},{"nu":"312","f":1040,"T":2.1e-4},{"nu":"312","f":1060,"T":4e-4},{"nu":"312","f":1080,"T":2.9e-4},{"nu":"312","f":1090,"T":4.2e-4},
      {"nu":"312","f":530,"T":4.4e-5},{"nu":"312","f":550,"T":5.4e-5},{"nu":"312","f":570,"T":2e-5},{"nu":"312","f":590,"T":9.8e-5},{"nu":"312","f":610,"T":8e-5},{"nu":"312","f":630,"T":3.1e-4},{"nu":"312","f":650,"T":1.1e-4},{"nu":"312","f":670,"T":2.9e-4},{"nu":"312","f":690,"T":1.2e-4},{"nu":"312","f":710,"T":3.1e-4},{"nu":"312","f":730,"T":9.2e-5},{"nu":"312","f":750,"T":2.2e-4},{"nu":"312","f":770,"T":1.1e-4},{"nu":"312","f":790,"T":2.6e-4},{"nu":"312","f":810,"T":8.8e-5},{"nu":"312","f":830,"T":2.1e-4},{"nu":"312","f":850,"T":1.2e-4},{"nu":"312","f":870,"T":4.5e-4},{"nu":"312","f":890,"T":1.3e-4},{"nu":"312","f":910,"T":3e-4},{"nu":"312","f":930,"T":1.44e-4},{"nu":"312","f":950,"T":3.7e-4},{"nu":"312","f":970,"T":1.8e-4},{"nu":"312","f":990,"T":4.9e-4},{"nu":"312","f":1010,"T":1.8e-4},{"nu":"312","f":1030,"T":3.85e-4},{"nu":"312","f":1050,"T":1.5e-4},{"nu":"312","f":1070,"T":4.5e-4},

      {"nu":"376","f":106,"T":4.2e-6},{"nu":"376","f":108,"T":3.8e-6},{"nu":"376","f":110,"T":4.5e-6},{"nu":"376","f":112,"T":4e-6},{"nu":"376","f":114,"T":4.8e-6},{"nu":"376","f":116,"T":5.5e-6},{"nu":"376","f":118,"T":5e-6},{"nu":"376","f":120,"T":6e-6},{"nu":"376","f":123,"T":6.5e-6},{"nu":"376","f":126,"T":6e-6},{"nu":"376","f":129,"T":7e-6},{"nu":"376","f":131,"T":7.4e-6},{"nu":"376","f":134,"T":1e-5},{"nu":"376","f":137,"T":1.3e-5},{"nu":"376","f":140,"T":1.6e-5},{"nu":"376","f":144,"T":1.8e-5},{"nu":"376","f":148,"T":2e-5},{"nu":"376","f":152,"T":2.2e-5},{"nu":"376","f":156,"T":2.4e-5},{"nu":"376","f":161,"T":2.6e-5},{"nu":"376","f":166,"T":2.8e-5},{"nu":"376","f":171,"T":3e-5},{"nu":"376","f":176,"T":3.3e-5},{"nu":"376","f":181,"T":3.6e-5},{"nu":"376","f":187,"T":4e-5},{"nu":"376","f":193,"T":4.3e-5},{"nu":"376","f":200,"T":4.7e-5},{"nu":"376","f":208,"T":5e-5},{"nu":"376","f":215,"T":6e-5},{"nu":"376","f":222,"T":7.5e-5},{"nu":"376","f":230,"T":9.7e-5},{"nu":"376","f":236,"T":1.3e-4},{"nu":"376","f":241,"T":1.8e-4},{"nu":"376","f":247,"T":2.6e-4},{"nu":"376","f":253,"T":4e-4},{"nu":"376","f":259,"T":6e-4},{"nu":"376","f":266,"T":9e-4},{"nu":"376","f":272,"T":0.0014},{"nu":"376","f":279,"T":0.0021},{"nu":"376","f":286,"T":0.0035},{"nu":"376","f":293,"T":0.006},{"nu":"376","f":300,"T":0.01},{"nu":"376","f":308,"T":0.018},{"nu":"376","f":315,"T":0.03},{"nu":"376","f":322,"T":0.048},{"nu":"376","f":328,"T":0.07},{"nu":"376","f":334,"T":0.1},{"nu":"376","f":340,"T":0.16},{"nu":"376","f":345,"T":0.23},{"nu":"376","f":349,"T":0.31},{"nu":"376","f":356,"T":0.47},{"nu":"376","f":360,"T":0.59},{"nu":"376","f":367.5,"T":0.8},{"nu":"376","f":376,"T":0.925},{"nu":"376","f":384.8,"T":0.8},{"nu":"376","f":393.7,"T":0.48},{"nu":"376","f":403,"T":0.27},{"nu":"376","f":412,"T":0.14},{"nu":"376","f":422,"T":0.06},{"nu":"376","f":432,"T":0.025},{"nu":"376","f":442,"T":0.01},{"nu":"376","f":452,"T":0.0035},{"nu":"376","f":460,"T":0.0012},{"nu":"376","f":466,"T":5e-4},{"nu":"376","f":472,"T":2.5e-4},{"nu":"376","f":478,"T":1.6e-4},{"nu":"376","f":484,"T":2e-4},{"nu":"376","f":490,"T":1.5e-4},{"nu":"376","f":496,"T":1.8e-4},{"nu":"376","f":502,"T":1.3e-4},{"nu":"376","f":508,"T":1.6e-4},{"nu":"376","f":514,"T":1.2e-4},
      {"nu":"376","f":520,"T":1.5e-4},{"nu":"376","f":540,"T":8.1e-5},{"nu":"376","f":560,"T":7.1e-5},{"nu":"376","f":580,"T":1e-4},{"nu":"376","f":600,"T":6.7e-5},{"nu":"376","f":620,"T":1.4e-4},{"nu":"376","f":640,"T":2.1e-4},{"nu":"376","f":660,"T":1.7e-4},{"nu":"376","f":680,"T":2.5e-4},{"nu":"376","f":700,"T":3.1e-4},{"nu":"376","f":720,"T":1.5e-4},{"nu":"376","f":740,"T":1.5e-4},{"nu":"376","f":760,"T":1.8e-4},{"nu":"376","f":780,"T":1.6e-4},{"nu":"376","f":800,"T":1.3e-4},{"nu":"376","f":820,"T":1.1e-4},{"nu":"376","f":840,"T":2.6e-4},{"nu":"376","f":860,"T":2.2e-4},{"nu":"376","f":880,"T":2.1e-4},{"nu":"376","f":900,"T":2.5e-4},{"nu":"376","f":920,"T":3.1e-4},{"nu":"376","f":940,"T":1.9e-4},{"nu":"376","f":960,"T":1.9e-4},{"nu":"376","f":980,"T":3.1e-4},{"nu":"376","f":1000,"T":3e-4},{"nu":"376","f":1020,"T":3.8e-4},{"nu":"376","f":1040,"T":2.3e-4},{"nu":"376","f":1060,"T":3.4e-4},{"nu":"376","f":1080,"T":3.3e-4},{"nu":"376","f":1090,"T":1.7e-4},
      {"nu":"376","f":530,"T":1.6e-4},{"nu":"376","f":550,"T":4.6e-5},{"nu":"376","f":570,"T":1.3e-4},{"nu":"376","f":590,"T":4.2e-5},{"nu":"376","f":610,"T":1.35e-4},{"nu":"376","f":630,"T":1.2e-4},{"nu":"376","f":650,"T":2.85e-4},{"nu":"376","f":670,"T":1.05e-4},{"nu":"376","f":690,"T":3.9e-4},{"nu":"376","f":710,"T":1.4e-4},{"nu":"376","f":730,"T":2.25e-4},{"nu":"376","f":750,"T":8.3e-5},{"nu":"376","f":770,"T":2.2e-4},{"nu":"376","f":790,"T":8.7e-5},{"nu":"376","f":810,"T":1.8e-4},{"nu":"376","f":830,"T":9.3e-5},{"nu":"376","f":850,"T":3.4e-4},{"nu":"376","f":870,"T":1.5e-4},{"nu":"376","f":890,"T":3e-4},{"nu":"376","f":910,"T":1.4e-4},{"nu":"376","f":930,"T":3.75e-4},{"nu":"376","f":950,"T":1.14e-4},{"nu":"376","f":970,"T":3.5e-4},{"nu":"376","f":990,"T":1.5e-4},{"nu":"376","f":1010,"T":4.4e-4},{"nu":"376","f":1030,"T":1.8e-4},{"nu":"376","f":1050,"T":4.3e-4},{"nu":"376","f":1070,"T":1.7e-4}
    ]
  },
  "resolve": {"scale": {"color": "independent"}, "legend": {"color": "independent"}},
  "vconcat": [
    {
      "width": 493,
      "height": 362,
      "data": {"name": "transmission"},
      "mark": {"type": "line", "strokeWidth": 2, "clip": true, "interpolate": "monotone"},
      "encoding": {
        "x": {
          "field": "f", "type": "quantitative",
          "scale": {"type": "log", "domain": [100, 500], "nice": false},
          "axis": {
            "title": "Frequency, GHz", "titlePadding": 12,
            "values": [100,110,120,130,140,150,160,170,180,190,200,210,220,230,240,250,260,270,280,290,300,310,320,330,340,350,360,370,380,390,400,410,420,430,440,450,460,470,480,490,500],
            "labelExpr": "datum.value % 100 == 0 ? format(datum.value, 'd') : ''",
            "tickSize": {"condition": {"test": "datum.value % 100 == 0", "value": 7}, "value": 4},
            "grid": true,
            "gridOpacity": {"condition": {"test": "datum.value % 100 == 0 && datum.value > 100 && datum.value < 500", "value": 1}, "value": 0}
          }
        },
        "y": {
          "field": "T", "type": "quantitative",
          "scale": {"domain": [0, 1], "nice": false, "zero": false},
          "axis": {
            "title": "Transmission", "titleAngle": 0, "titleAlign": "left", "titleBaseline": "alphabetic",
            "titleX": -4, "titleY": -14,
            "values": [0,0.04,0.08,0.12,0.16,0.2,0.24,0.28,0.32,0.36,0.4,0.44,0.48,0.52,0.56,0.6,0.64,0.68,0.72,0.76,0.8,0.84,0.88,0.92,0.96,1],
            "labelExpr": "abs(datum.value*5 - round(datum.value*5)) < 0.001 ? replace(format(datum.value, '.1f'), '.', ',') : ''",
            "tickSize": {"condition": {"test": "abs(datum.value*5 - round(datum.value*5)) < 0.001", "value": 7}, "value": 4},
            "grid": true,
            "gridOpacity": {"condition": {"test": "abs(datum.value*5 - round(datum.value*5)) < 0.001", "value": 1}, "value": 0}
          }
        },
        "color": {
          "field": "nu", "type": "nominal",
          "scale": {"domain": ["112","132","156","188","224","264","312","376"], "range": ["#ff0000","#800000","#0000ff","#008000","#ff00ff","#000000","#ff8000","#808000"]},
          "legend": {"legendX": 432, "legendY": -36, "labelExpr": "'νₘₐₓ=' + datum.label + ' GHz'"}
        }
      }
    },
    {
      "width": 493,
      "height": 362,
      "data": {"name": "transmission"},
      "mark": {"type": "line", "strokeWidth": 1.5, "clip": true},
      "encoding": {
        "x": {
          "field": "f", "type": "quantitative",
          "scale": {"type": "log", "domain": [100, 1086], "nice": false},
          "axis": {
            "title": "Frequency, GHz", "titlePadding": 12,
            "values": [120,140,160,180,200,220,240,260,280,300,320,340,360,380,400,420,440,460,480,500,520,540,560,580,600,620,640,660,680,700,720,740,760,780,800,820,840,860,880,900,920,940,960,980,1000,1020,1040,1060,1080],
            "labelExpr": "datum.value % 200 == 0 ? format(datum.value, 'd') : ''",
            "tickSize": {"condition": {"test": "datum.value % 200 == 0", "value": 7}, "value": 4},
            "grid": true,
            "gridOpacity": {"condition": {"test": "datum.value % 200 == 0", "value": 1}, "value": 0}
          }
        },
        "y": {
          "field": "T", "type": "quantitative",
          "scale": {"type": "log", "domain": [1e-6, 1], "nice": false},
          "axis": {
            "title": "Transmission", "titleAngle": 0, "titleAlign": "left", "titleBaseline": "alphabetic",
            "titleX": -4, "titleY": -14,
            "values": [1e-6,2e-6,3e-6,4e-6,5e-6,6e-6,7e-6,8e-6,9e-6,1e-5,2e-5,3e-5,4e-5,5e-5,6e-5,7e-5,8e-5,9e-5,1e-4,2e-4,3e-4,4e-4,5e-4,6e-4,7e-4,8e-4,9e-4,0.001,0.002,0.003,0.004,0.005,0.006,0.007,0.008,0.009,0.01,0.02,0.03,0.04,0.05,0.06,0.07,0.08,0.09,0.1,0.2,0.3,0.4,0.5,0.6,0.7,0.8,0.9,1],
            "labelExpr": "abs(log(datum.value)/LN10 - round(log(datum.value)/LN10)) < 0.001 ? (datum.value > 0.5 ? '1' : datum.value > 0.05 ? '0,1' : datum.value > 0.005 ? '0,01' : '1E' + round(log(datum.value)/LN10)) : ''",
            "tickSize": {"condition": {"test": "abs(log(datum.value)/LN10 - round(log(datum.value)/LN10)) < 0.001", "value": 7}, "value": 4},
            "grid": true,
            "gridOpacity": {"condition": {"test": "abs(log(datum.value)/LN10 - round(log(datum.value)/LN10)) < 0.001", "value": 1}, "value": 0}
          }
        },
        "color": {
          "field": "nu", "type": "nominal",
          "scale": {"domain": ["112","132","156","188","224","264","312","376"], "range": ["#ff0000","#800000","#0000ff","#008000","#ff00ff","#000000","#ff8000","#808000"]},
          "legend": {"legendX": 368, "legendY": -44, "labelExpr": "'νₘₐₓ=' + datum.label + ' GHz'"}
        }
      }
    }
  ]
}
